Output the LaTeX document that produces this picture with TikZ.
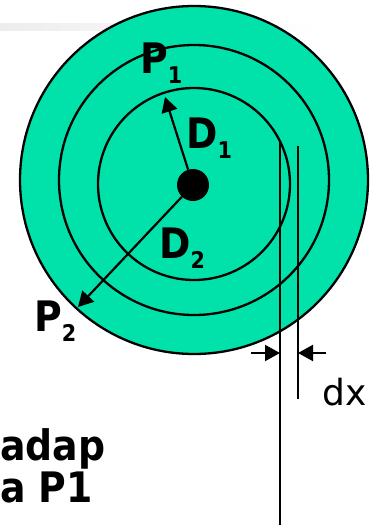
\documentclass[tikz,border=0pt]{standalone}
\usepackage{fontspec}
\newfontfamily\lblfont[FakeStretch=0.9]{DejaVu Sans}
\newfontfamily\dxfont{DejaVu Sans}
\usetikzlibrary{arrows.meta}
\definecolor{discgreen}{RGB}{0,226,170}
\tikzstyle{ring} = [draw=black, line width=2.3pt]
\tikzstyle{thinline} = [line width=2.2pt]
\tikzstyle{arrow} = [line width=2.2pt, -{Triangle[length=15pt, width=16pt]}]
\tikzstyle{bigtext} = [
    inner sep=0pt,
    anchor=base west,
    font=\lblfont\bfseries\fontsize{42}{42}\selectfont
]
\tikzstyle{smalltext} = [
    inner sep=0pt,
    anchor=base west,
    font=\dxfont\fontsize{36}{36}\selectfont
]
\newcommand{\sublbl}[2]{#1\raisebox{-10pt}{\fontsize{23}{23}\selectfont #2}}

\begin{document}
\begin{tikzpicture}[x=1pt, y=-1pt]
\useasboundingbox (0,0) rectangle (379,525);

% faint band behind the disc
\shade[left color=gray!14, right color=white] (0,23) rectangle (320,30);

% disc and rings
\coordinate (centre) at (194,180);
\coordinate (innercentre) at (194,184);
\draw[ring, fill=discgreen] (centre) circle (174);
\draw[ring] (centre) circle (135);
\draw[ring] (innercentre) circle (96);

\node (hub) at (193,185) [circle, fill=black, minimum size=32pt, inner sep=0pt] {};

% radius arrows
\coordinate (tipDa) at (165,97);
\coordinate (tipDb) at (78,307);
\draw [arrow] (hub) -- (tipDa);
\draw [arrow] (hub) -- (tipDb);

\node (pa) [bigtext] at (140,73) {\sublbl{P}{1}};
\node (da) [bigtext] at (186,148) {\sublbl{D}{1}};
\node (db) [bigtext] at (159,258) {\sublbl{D}{2}};
\node (pb) [bigtext] at (34,331) {\sublbl{P}{2}};

% strip of width dx
\coordinate (edgeAtop) at (280,140);
\coordinate (edgeAbot) at (280,525);
\coordinate (edgeBtop) at (298,146);
\coordinate (edgeBbot) at (298,399);
\draw [thinline] (edgeAtop) -- (edgeAbot);
\draw [thinline] (edgeBtop) -- (edgeBbot);

\coordinate (dxleft) at (251,353);
\coordinate (dxright) at (326,353);
\coordinate (hitA) at (280,353);
\coordinate (hitB) at (298,353);
\draw [arrow] (dxleft) -- (hitA);
\draw [arrow] (dxright) -- (hitB);

\node (dxtext) [smalltext] at (322,405) {dx};

\node (lineone) [bigtext] at (0,460) {adap};
\node (linetwo) [bigtext] at (0,502) {a P1};

\end{tikzpicture}
\end{document}
